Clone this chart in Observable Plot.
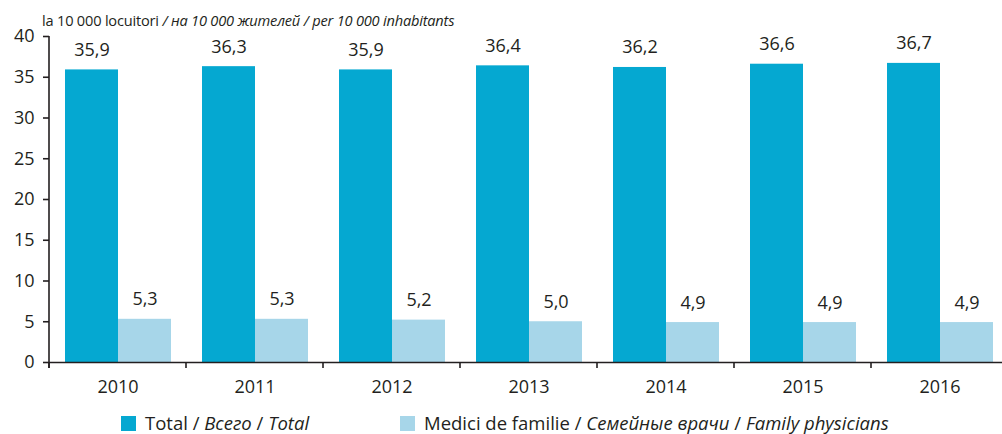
<!DOCTYPE html>
<html>
<head>
<meta charset="utf-8">
<script src="https://cdn.jsdelivr.net/npm/d3@7"></script>
<script src="https://cdn.jsdelivr.net/npm/@observablehq/plot@0.6"></script>
<style>
  html, body { margin: 0; padding: 0; background: #fff; overflow: hidden; }
  body { width: 1002px; height: 434px; position: relative; font-family: "Open Sans", sans-serif; color: #231f20; }
  #title { position: absolute; left: 42px; top: 10px; font-size: 14.6px; white-space: nowrap; letter-spacing: -0.2px; }
  #chart { position: absolute; left: 0; top: 0; width: 1009px; }
  #chart svg { max-width: none !important; }
  #legend { position: absolute; top: 413px; left: 0; width: 1002px; height: 20px; font-size: 18.5px; line-height: 20px; }
  .item { position: absolute; top: 0; height: 20px; display: flex; align-items: center; white-space: nowrap; }
  .sw { width: 15px; height: 15px; margin-right: 9px; display: inline-block; }
</style>
</head>
<body>
<div id="title">la 10 000 locuitori <i>/ на 10 000 жителей / per 10 000 inhabitants</i></div>
<div id="chart"></div>
<div id="legend"></div>
<script>
const years = ["2010", "2011", "2012", "2013", "2014", "2015", "2016"];
const totalValues = [35.9, 36.3, 35.9, 36.4, 36.2, 36.6, 36.7];
const familyValues = [5.3, 5.3, 5.2, 5.0, 4.9, 4.9, 4.9];
const seriesKeys = ["Total", "Family"];
const seriesColors = ["#05a8d1", "#a7d6e9"];
const legendLabels = [
  'Total / <i>Всего</i> / <i>Total</i>',
  'Medici de familie / <i>Семейные врачи</i> / <i>Family physicians</i>'
];
const yTicks = [0, 5, 10, 15, 20, 25, 30, 35, 40];

const rows = [];
years.forEach((yr, i) => {
  rows.push({year: yr, series: "Total", value: totalValues[i]});
  rows.push({year: yr, series: "Family", value: familyValues[i]});
});

const fmt = v => v.toFixed(1).replace(".", ",");

const chart = Plot.plot({
  width: 1009,
  height: 404,
  marginLeft: 48,
  marginRight: 0,
  marginTop: 36,
  marginBottom: 42,
  style: {fontFamily: "Open Sans, sans-serif", color: "#231f20", background: "transparent", overflow: "visible", maxWidth: "none"},
  fx: {domain: years, paddingInner: 0, paddingOuter: 0, label: null, axis: null},
  x: {domain: seriesKeys, paddingInner: 0, paddingOuter: 0.29, axis: null},
  y: {domain: [0, 40], axis: null},
  color: {domain: seriesKeys, range: seriesColors},
  marks: [
    Plot.barY(rows, {fx: "year", x: "series", y: "value", fill: "series"}),
    Plot.text(rows, {fx: "year", x: "series", y: "value", text: d => fmt(d.value),
      lineAnchor: "bottom", dy: -14, fontSize: 18, fill: "#231f20"}),
    Plot.ruleY([0], {stroke: "#231f20", strokeWidth: 1.6}),
    Plot.axisFx({anchor: "bottom", tickSize: 0, tickPadding: 18, fontSize: 18, label: null, fill: "#231f20"}),
    Plot.axisY({ticks: yTicks, tickSize: 6, tickPadding: 9, fontSize: 18, label: null,
      stroke: "#231f20", strokeWidth: 1.6, fill: "#231f20"})
  ]
});
document.getElementById("chart").appendChild(chart);

// y axis line and category boundary ticks, positioned by Plot's own scales
const svg = d3.select(chart);
const fxS = chart.scale("fx");
const yS = chart.scale("y");
const y0 = yS.apply(0), yTop = yS.apply(40);
const xLeft = fxS.apply(years[0]);
svg.append("line").attr("x1", xLeft).attr("x2", xLeft).attr("y1", yTop).attr("y2", y0 + 6)
  .attr("stroke", "#231f20").attr("stroke-width", 1.6);
years.forEach(yr => {
  const x = fxS.apply(yr);
  svg.append("line").attr("x1", x).attr("x2", x).attr("y1", y0).attr("y2", y0 + 6)
    .attr("stroke", "#231f20").attr("stroke-width", 1.6);
});

// legend
const legend = document.getElementById("legend");
const legendLeft = [121, 400];
seriesKeys.forEach((k, i) => {
  const item = document.createElement("div");
  item.className = "item";
  item.style.left = legendLeft[i] + "px";
  item.innerHTML = `<span class="sw" style="background:${seriesColors[i]}"></span><span>${legendLabels[i]}</span>`;
  legend.appendChild(item);
});
</script>
</body>
</html>
